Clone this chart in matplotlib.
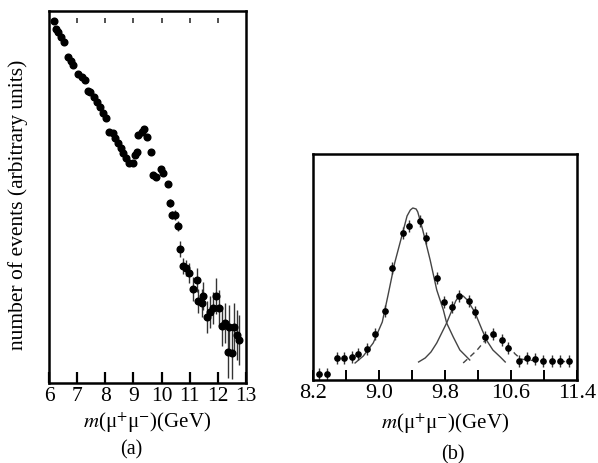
import numpy as np
import matplotlib
matplotlib.use("Agg")
import matplotlib.pyplot as plt

plt.rcParams['font.family'] = ['Liberation Serif', 'DejaVu Serif']
plt.rcParams['mathtext.fontset'] = 'stix'

# panel (a): dimuon mass spectrum, arbitrary units
mass_a = [6.18, 6.25, 6.32, 6.43, 6.53, 6.68, 6.78, 6.85, 7.03, 7.17,
          7.28, 7.39, 7.46, 7.60, 7.71, 7.81, 7.92, 8.03, 8.14, 8.28,
          8.35, 8.46, 8.56, 8.63, 8.74, 8.85, 8.99, 9.06, 9.13, 9.17,
          9.31, 9.38, 9.49, 9.63, 9.70, 9.81, 9.99, 10.06, 10.23, 10.31,
          10.38, 10.48, 10.59, 10.66, 10.77, 10.88, 10.98, 11.12, 11.27, 11.30,
          11.44, 11.48, 11.62, 11.73, 11.84, 11.94, 12.05, 12.16, 12.26, 12.37,
          12.41, 12.52, 12.58, 12.69, 12.76]
events_a = [362, 354, 351, 346, 341, 326, 322, 318, 309, 306,
            303, 292, 291, 286, 281, 276, 270, 265, 251, 250,
            245, 240, 235, 230, 225, 220, 220, 228, 231, 248,
            251, 254, 246, 231, 208, 206, 214, 210, 199, 180,
            168, 168, 157, 134, 117, 115, 110, 94, 103, 82,
            80, 87, 66, 71, 75, 87, 75, 57, 60, 31,
            56, 30, 56, 48, 43]
err_a = [3, 3, 3, 3, 3, 3, 3, 3, 3, 3,
         3, 3, 3, 3, 3, 3, 3, 3, 3, 3,
         3, 3, 3, 3, 3, 3, 3, 3, 3, 3,
         3, 3, 3, 3, 3, 3, 3, 3, 3, 4,
         4, 5, 5, 8, 8, 8, 10, 12, 12, 12,
         14, 14, 16, 16, 16, 18, 18, 20, 20, 26,
         22, 26, 24, 25, 25]
xticks_a = [6, 7, 8, 9, 10, 11, 12, 13]
top_marks_a = [7, 8, 9, 10, 11, 12]

# panel (b): zoom on the upsilon region
mass_b = [8.27, 8.37, 8.49, 8.58, 8.67, 8.75, 8.85, 8.95, 9.07, 9.16,
          9.29, 9.36, 9.50, 9.57, 9.70, 9.79, 9.88, 9.97, 10.09, 10.16,
          10.28, 10.38, 10.49, 10.56, 10.70, 10.79, 10.89, 10.99, 11.10, 11.19,
          11.30]
events_b = [6, 6, 22, 22, 23, 26, 31, 46, 69, 112,
            147, 154, 159, 142, 102, 78, 73, 84, 79, 68,
            43, 46, 40, 32, 19, 22, 21, 19, 19, 19,
            19]
err_b = 6
xticks_b = [8.2, 9.0, 9.8, 10.6, 11.4]
minor_b = [8.6, 9.4, 10.2, 11.0]

# fitted peaks
fit1_m = [8.71, 8.81, 8.93, 9.04, 9.11, 9.19, 9.28, 9.34, 9.38, 9.41,
          9.45, 9.47, 9.53, 9.62, 9.70, 9.78, 9.82, 9.90, 9.98, 10.10]
fit1_y = [17, 24, 37, 58, 85, 117, 145, 164, 170, 172,
          171, 168, 150, 120, 90, 70, 57, 43, 30, 20]
fit2_m = [9.48, 9.56, 9.63, 9.70, 9.76, 9.82, 9.88, 9.93, 9.97, 10.02,
          10.07, 10.16, 10.25, 10.31, 10.38, 10.47, 10.53]
fit2_y = [18, 22, 28, 37, 47, 57, 69, 79, 84, 84,
          80, 68, 50, 39, 30, 23, 18]
fit3_m = [10.02, 10.10, 10.19, 10.27, 10.35, 10.43, 10.50, 10.58, 10.65, 10.72,
          10.79, 10.95, 11.13, 11.34]
fit3_y = [17, 23, 30, 38, 43, 44, 40, 33, 26, 21,
          20, 19, 19, 18]

fig = plt.figure(figsize=(5.98, 4.63), dpi=100)

# ---- (a)
ax1 = fig.add_axes([0.0819, 0.1728, 0.3294, 0.8035])
ax1.errorbar(mass_a, events_a, yerr=err_a, fmt='o', color='black',
             ms=4.8, elinewidth=1.0, ecolor='#333333', capsize=0)
ax1.vlines(top_marks_a, 0.968, 0.981, transform=ax1.get_xaxis_transform(),
           color='#333333', lw=1.2)
ax1.set_xlim(6, 13)
ax1.set_ylim(0, 372)
ax1.set_xticks(xticks_a)
ax1.set_yticks([])
ax1.tick_params(axis='x', direction='in', length=8, width=1.6,
                labelsize=15.5, pad=3)
for s in ax1.spines.values():
    s.set_linewidth(1.8)
ax1.set_xlabel(r"$m$(μ$^{+}$μ$^{-}$)(GeV)", fontsize=15, labelpad=3)
ax1.text(0.42, -0.18, "(a)", transform=ax1.transAxes, fontsize=14.5,
         ha='center', va='center')
fig.text(0.030, 0.557, "number of events (arbitrary units)", rotation=90,
         fontsize=15.5, ha='center', va='center')

# ---- (b)
ax2 = fig.add_axes([0.5234, 0.1793, 0.4415, 0.4881])
ax2.plot(fit1_m, fit1_y, color='#444444', lw=1.0)
ax2.plot(fit2_m, fit2_y, color='#444444', lw=1.0)
ax2.plot(fit3_m, fit3_y, color='#444444', lw=1.0, ls=(0, (4, 3)))
ax2.errorbar(mass_b, events_b, yerr=err_b, fmt='o', color='black',
             ms=3.8, elinewidth=1.0, ecolor='#333333', capsize=0)
ax2.set_xlim(8.2, 11.4)
ax2.set_ylim(0, 226)
ax2.set_xticks(xticks_b)
ax2.set_xticks(minor_b, minor=True)
ax2.set_xticklabels([f"{t:.1f}" for t in xticks_b])
ax2.set_yticks([])
ax2.tick_params(axis='x', which='both', direction='in', length=7, width=1.4,
                labelsize=16, pad=3)
for s in ax2.spines.values():
    s.set_linewidth(1.8)
ax2.set_xlabel(r"$m$(μ$^{+}$μ$^{-}$)(GeV)", fontsize=15, labelpad=6)
ax2.text(0.53, -0.33, "(b)", transform=ax2.transAxes, fontsize=14.5,
         ha='center', va='center')

fig.savefig("out.png", dpi=100)
